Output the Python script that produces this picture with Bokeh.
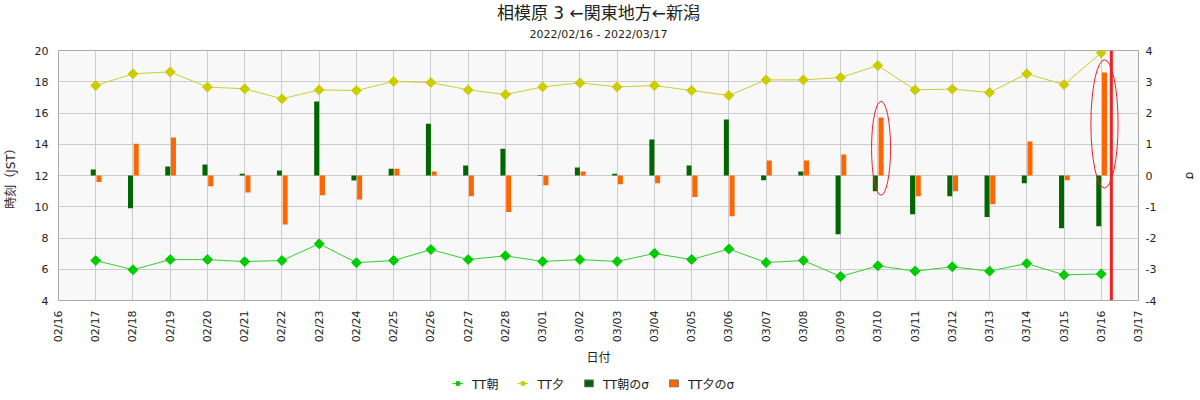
import math
import pandas as pd
from bokeh.plotting import figure
from bokeh.layouts import column
from bokeh.models import (Range1d, LinearAxis, Legend, LegendItem, Span, Title,
                          FixedTicker, ColumnDataSource)
from bokeh.embed import file_html
from bokeh.resources import INLINE

# ---------------- data ----------------
START = "2022-02-16"
END = "2022-03-17"
dates = ["2022-02-17", "2022-02-18", "2022-02-19", "2022-02-20", "2022-02-21",
         "2022-02-22", "2022-02-23", "2022-02-24", "2022-02-25", "2022-02-26",
         "2022-02-27", "2022-02-28", "2022-03-01", "2022-03-02", "2022-03-03",
         "2022-03-04", "2022-03-05", "2022-03-06", "2022-03-07", "2022-03-08",
         "2022-03-09", "2022-03-10", "2022-03-11", "2022-03-12", "2022-03-13",
         "2022-03-14", "2022-03-15", "2022-03-16"]
tt_asa = [6.56, 5.97, 6.62, 6.62, 6.49, 6.56, 7.63, 6.42, 6.56, 7.26,
          6.62, 6.86, 6.50, 6.62, 6.50, 7.01, 6.62, 7.30, 6.43, 6.56,
          5.54, 6.22, 5.88, 6.16, 5.88, 6.37, 5.64, 5.70]
tt_yu = [17.76, 18.51, 18.63, 17.66, 17.55, 16.91, 17.48, 17.44, 18.02, 17.95,
         17.48, 17.18, 17.67, 17.93, 17.67, 17.76, 17.44, 17.12, 18.12, 18.12,
         18.27, 19.04, 17.48, 17.53, 17.31, 18.51, 17.82, 19.85]
sig_asa = [0.19, -1.05, 0.29, 0.35, 0.06, 0.16, 2.37, -0.16, 0.22, 1.66,
           0.32, 0.86, 0.02, 0.26, 0.06, 1.15, 0.32, 1.79, -0.15, 0.13,
           -1.88, -0.50, -1.24, -0.66, -1.33, -0.25, -1.69, -1.62]
sig_yu = [-0.21, 1.02, 1.22, -0.34, -0.54, -1.57, -0.63, -0.77, 0.22, 0.13,
          -0.66, -1.17, -0.31, 0.13, -0.28, -0.25, -0.69, -1.30, 0.48, 0.48,
          0.67, 1.86, -0.66, -0.50, -0.92, 1.09, -0.15, 3.30]
tick_labels = ["02/16", "02/17", "02/18", "02/19", "02/20", "02/21", "02/22",
               "02/23", "02/24", "02/25", "02/26", "02/27", "02/28", "03/01",
               "03/02", "03/03", "03/04", "03/05", "03/06", "03/07", "03/08",
               "03/09", "03/10", "03/11", "03/12", "03/13", "03/14", "03/15",
               "03/16", "03/17"]
left_ticks = [4, 6, 8, 10, 12, 14, 16, 18, 20]
sigma_ticks = [-4, -3, -2, -1, 0, 1, 2, 3, 4]
highlight_dates = ["2022-03-10", "2022-03-16"]
now_time = "2022-03-16 06:30"
legend_labels = ["TT朝", "TT夕", "TT朝のσ", "TT夕のσ"]

title_text = "相模原 3 ←関東地方←新潟"
subtitle_text = "2022/02/16 - 2022/03/17"

# ---------------- colours ----------------
C_ASA_LINE, C_ASA_MARK = "#33cc33", "#00cc00"
C_YU_LINE, C_YU_MARK = "#cccc33", "#cccc00"
C_ASA_BAR, C_YU_BAR = "#006600", "#ff6600"

# ---------------- derived ----------------
t0 = pd.Timestamp(START)
def day(d):
    return (pd.Timestamp(d) - t0) / pd.Timedelta(days=1)

x = [day(d) for d in dates]
n_days = day(END)
BW = 0.134
x_asa_bar = [v - BW / 2 for v in x]
x_yu_bar = [v + BW / 2 + 0.02 for v in x]

FONT = "DejaVu Sans, 'Noto Sans CJK JP'"

p = figure(frame_width=1080, frame_height=250, output_backend="svg",
           toolbar_location=None, x_range=Range1d(0, n_days),
           y_range=Range1d(4, 20), min_border_left=52, min_border_right=58,
           min_border_top=0, min_border_bottom=70,
           background_fill_color="#f8f8f8", border_fill_color="white",
           outline_line_color="#aaaaaa")
p.extra_y_ranges = {"sigma": Range1d(-4, 4)}

# titles (spacer closest to the frame, then subtitle, then title)
p.add_layout(Title(text=" ", text_font_size="1px", standoff=5), "above")
p.add_layout(Title(text=subtitle_text, align="center", text_font_size="11px",
                   text_font_style="normal", text_font=FONT, text_color="#222222",
                   standoff=4), "above")
p.add_layout(Title(text=title_text, align="center", text_font_size="17px",
                   text_font_style="normal", text_font=FONT, text_color="#222222",
                   standoff=1), "above")

# axes
p.xaxis.ticker = FixedTicker(ticks=list(range(len(tick_labels))))
p.xaxis.major_label_overrides = {i: t for i, t in enumerate(tick_labels)}
p.xaxis.major_label_orientation = math.pi / 2
p.xaxis.axis_label = "日付"
p.yaxis.ticker = FixedTicker(ticks=left_ticks)
p.yaxis.axis_label = "時刻（JST）"

rax = LinearAxis(y_range_name="sigma", ticker=FixedTicker(ticks=sigma_ticks),
                 axis_label="σ")
rax.major_label_overrides = {t: str(t) for t in sigma_ticks}
p.add_layout(rax, "right")

for ax in [p.xaxis[0], p.yaxis[0], rax]:
    ax.axis_line_color = None
    ax.major_tick_line_color = None
    ax.minor_tick_line_color = None
    ax.major_tick_out = 0
    ax.major_tick_in = 0
    ax.minor_tick_out = 0
    ax.major_label_text_font = FONT
    ax.major_label_text_font_size = "11px"
    ax.major_label_text_color = "#222222"
    ax.axis_label_text_font = FONT
    ax.axis_label_text_font_size = "12px"
    ax.axis_label_text_font_style = "normal"
    ax.axis_label_text_color = "#222222"
p.xaxis.major_label_standoff = 10
p.xaxis.axis_label_standoff = 6
p.yaxis.major_label_standoff = 10
p.yaxis.axis_label_standoff = 14
rax.major_label_standoff = 7
rax.axis_label_standoff = 24

p.xgrid.ticker = FixedTicker(ticks=list(range(len(tick_labels))))
p.xgrid.grid_line_color = "#cccccc"
p.ygrid.grid_line_color = "#cccccc"

# bars
src = ColumnDataSource(dict(xa=x_asa_bar, xy=x_yu_bar, sa=sig_asa, sy=sig_yu))
p.vbar(x="xa", width=BW, top="sa", bottom=0, source=src, y_range_name="sigma",
       fill_color=C_ASA_BAR, line_color=None)
p.vbar(x="xy", width=BW, top="sy", bottom=0, source=src, y_range_name="sigma",
       fill_color=C_YU_BAR, line_color=None)

# lines
p.line(x, tt_asa, line_color=C_ASA_LINE, line_width=1)
p.scatter(x, tt_asa, marker="square", angle=math.pi / 4, size=7,
          fill_color=C_ASA_MARK, line_color=C_ASA_MARK)
p.line(x, tt_yu, line_color=C_YU_LINE, line_width=1)
p.scatter(x, tt_yu, marker="square", angle=math.pi / 4, size=7,
          fill_color=C_YU_MARK, line_color=C_YU_MARK)

# highlight ellipses
ell_sizes = {"2022-03-10": (0.51, 3.0, 0.87), "2022-03-16": (0.73, 4.1, 1.65)}
ex, ey, ew, eh = [], [], [], []
for d in highlight_dates:
    i = dates.index(d)
    w, h, c = ell_sizes[d]
    ex.append(x_yu_bar[i]); ey.append(c); ew.append(w); eh.append(h)
p.ellipse(x=ex, y=ey, width=ew, height=eh, y_range_name="sigma",
          fill_alpha=0, line_color="#ee2222", line_width=1)

# now line
p.add_layout(Span(location=day(now_time), dimension="height",
                  line_color="#ee2222", line_width=3))

# ---------------- legend strip (separate small figure) ----------------
lg = figure(width=1190, height=26, output_backend="svg", toolbar_location=None,
            x_range=Range1d(0, 1), y_range=Range1d(0, 1),
            x_axis_location=None, y_axis_location=None,
            min_border=0, outline_line_color=None,
            background_fill_color="white", border_fill_color="white")
lg.grid.visible = False
# proxy glyphs placed outside the strip's visible range (swatches only)
r1 = lg.line([-10, -9], [-10, -10], line_color=C_ASA_LINE)
r1m = lg.scatter([-10], [-10], marker="square", angle=math.pi / 4,
                 fill_color=C_ASA_MARK, line_color=C_ASA_MARK)
r2 = lg.line([-10, -9], [-10, -10], line_color=C_YU_LINE)
r2m = lg.scatter([-10], [-10], marker="square", angle=math.pi / 4,
                 fill_color=C_YU_MARK, line_color=C_YU_MARK)
r3 = lg.vbar(x=[-10], width=1, top=[-9], bottom=-10, fill_color=C_ASA_BAR,
             line_color="#777777")
r4 = lg.vbar(x=[-10], width=1, top=[-9], bottom=-10, fill_color=C_YU_BAR,
             line_color="#777777")

legend = Legend(items=[
    LegendItem(label=legend_labels[0], renderers=[r1, r1m]),
    LegendItem(label=legend_labels[1], renderers=[r2, r2m]),
    LegendItem(label=legend_labels[2], renderers=[r3]),
    LegendItem(label=legend_labels[3], renderers=[r4]),
], orientation="horizontal", location="center",
    border_line_alpha=0, background_fill_alpha=0,
    glyph_width=11, glyph_height=9, spacing=19, label_standoff=9,
    label_text_font=FONT, label_text_font_size="12px", label_text_color="#222222",
    label_height=10, padding=0, margin=0)
lg.add_layout(legend, "center")

page = column(p, lg, spacing=0)
open("out.html", "w").write(file_html(page, INLINE))
